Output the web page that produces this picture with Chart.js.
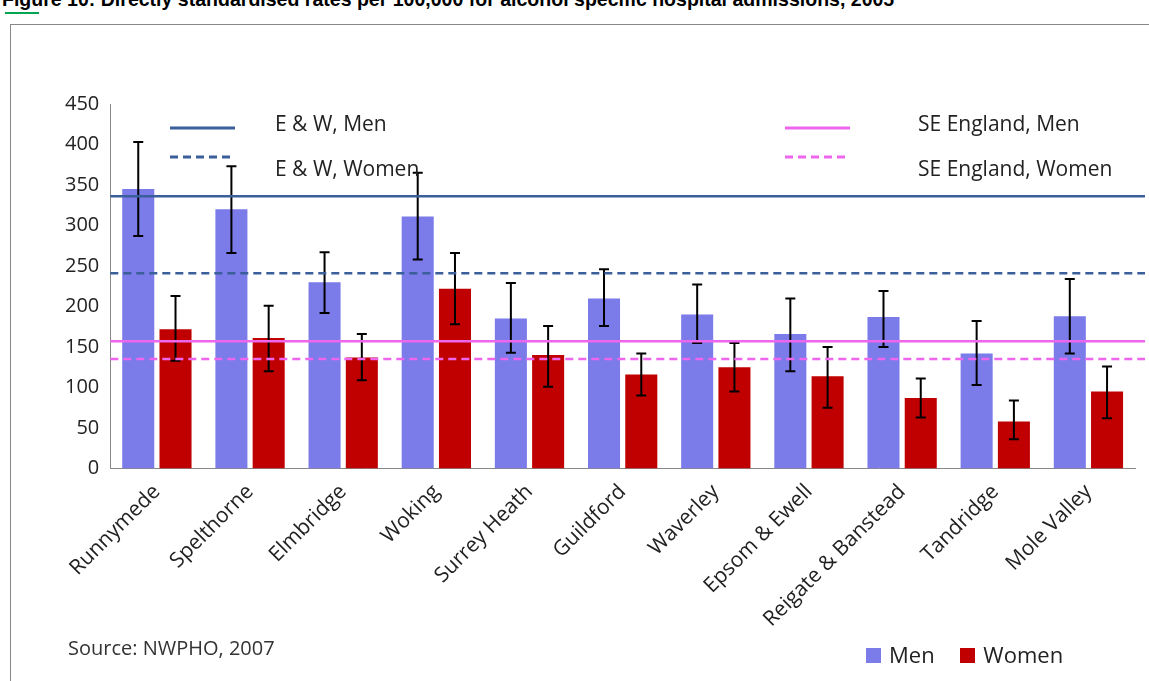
<!DOCTYPE html>
<html>
<head>
<meta charset="utf-8">
<script src="https://cdn.jsdelivr.net/npm/chart.js@4"></script>
<style>
  body { margin: 0; background: #fff; width: 1149px; height: 681px; overflow: hidden; position: relative; font-family: "Liberation Sans", Arial, sans-serif; }
  #title { position: absolute; left: 2px; top: -13px; font-weight: bold; font-size: 21px; white-space: nowrap; transform: scaleX(0.93); transform-origin: left; }
  #rule { position: absolute; left: 5px; top: 12px; width: 34px; height: 2px; background: #00a651; }
  #frame { position: absolute; left: 10px; top: 24px; width: 1160px; height: 700px; border: 1px solid #888; }
  #wrap { position: absolute; left: 0; top: 0; width: 1149px; height: 681px; }
  #source { position: absolute; left: 68px; top: 634px; font-family: "Open Sans", sans-serif; font-size: 20px; color: #333; }
  #legend { position: absolute; left: 866px; top: 639px; font-family: "Open Sans", sans-serif; font-size: 22px; color: #222; }
  #legend span.box { display: inline-block; width: 15px; height: 15px; margin-right: 8px; }
</style>
</head>
<body>
<div id="title">Figure 10: Directly standardised rates per 100,000 for alcohol specific hospital admissions, 2005</div>
<div id="rule"></div>
<div id="frame"></div>
<div id="wrap"><canvas id="chart"></canvas></div>
<div id="source">Source: NWPHO, 2007</div>
<div id="legend"><span class="box" style="background:#7b7bea"></span>Men <span class="box" style="background:#c00000;margin-left:20px"></span>Women</div>
<script>
const districts = ['Runnymede', 'Spelthorne', 'Elmbridge', 'Woking', 'Surrey Heath', 'Guildford',
  'Waverley', 'Epsom & Ewell', 'Reigate & Banstead', 'Tandridge', 'Mole Valley'];
const menRates = [345, 320, 230, 311, 185, 210, 190, 166, 187, 142, 188];
const menLow   = [287, 266, 192, 258, 143, 176, 155, 120, 150, 103, 142];
const menHigh  = [403, 373, 267, 365, 229, 246, 227, 210, 219, 182, 234];
const womenRates = [172, 161, 137, 222, 140, 116, 125, 114, 87, 58, 95];
const womenLow   = [133, 120, 109, 178, 101, 90, 95, 75, 63, 36, 62];
const womenHigh  = [213, 201, 166, 266, 176, 142, 155, 150, 111, 84, 126];
const refLabels = ['E & W, Men', 'E & W, Women', 'SE England, Men', 'SE England, Women'];
const refValues = [336, 241, 157, 135];
const yTicks = [0, 50, 100, 150, 200, 250, 300, 350, 400, 450];

const refStyles = [
  { color: '#3a5f9a', dash: [] },
  { color: '#3a5f9a', dash: [8, 5] },
  { color: '#ee66ee', dash: [] },
  { color: '#ee66ee', dash: [8, 5] }
];

// error bars and reference lines drawn against the chart's own scales
const overlays = {
  id: 'overlays',
  afterDatasetsDraw(chart) {
    const ctx = chart.ctx;
    const y = chart.scales.y;
    ctx.save();
    ctx.strokeStyle = '#000';
    ctx.lineWidth = 2;
    [[menLow, menHigh], [womenLow, womenHigh]].forEach((pair, di) => {
      chart.getDatasetMeta(di).data.forEach((bar, i) => {
        const top = y.getPixelForValue(pair[1][i]);
        const bot = y.getPixelForValue(pair[0][i]);
        ctx.beginPath();
        ctx.moveTo(bar.x, top); ctx.lineTo(bar.x, bot);
        ctx.moveTo(bar.x - 5, top); ctx.lineTo(bar.x + 5, top);
        ctx.moveTo(bar.x - 5, bot); ctx.lineTo(bar.x + 5, bot);
        ctx.stroke();
      });
    });
    const a = chart.chartArea;
    refValues.forEach((v, i) => {
      const py = y.getPixelForValue(v);
      ctx.strokeStyle = refStyles[i].color;
      ctx.setLineDash(refStyles[i].dash);
      ctx.lineWidth = 2.5;
      ctx.beginPath();
      ctx.moveTo(a.left, py); ctx.lineTo(chart.width - 4, py);
      ctx.stroke();
    });
    // line key inside plot area
    const keys = [[170, 128], [170, 157], [785, 128], [785, 157]];
    ctx.font = '21px "Open Sans", sans-serif';
    ctx.fillStyle = '#222';
    ctx.textBaseline = 'middle';
    keys.forEach((k, i) => {
      ctx.strokeStyle = refStyles[i].color;
      ctx.setLineDash(refStyles[i].dash);
      ctx.lineWidth = 3;
      ctx.beginPath();
      ctx.moveTo(k[0], k[1]); ctx.lineTo(k[0] + 65, k[1]);
      ctx.stroke();
      ctx.fillText(refLabels[i], k[0] + (i < 2 ? 105 : 133), k[1] - 3 + (i % 2) * 16);
    });
    ctx.restore();
  }
};

new Chart(document.getElementById('chart'), {
  type: 'bar',
  data: {
    labels: districts,
    datasets: [
      { label: 'Men', data: menRates, backgroundColor: '#7b7bea' },
      { label: 'Women', data: womenRates, backgroundColor: '#c00000' }
    ]
  },
  options: {
    responsive: true,
    maintainAspectRatio: false,
    animation: false,
    layout: { padding: { top: 104, left: 62, right: 14, bottom: 46 } },
    datasets: { bar: { categoryPercentage: 0.8, barPercentage: 0.86 } },
    plugins: { legend: { display: false }, tooltip: { enabled: false } },
    scales: {
      y: {
        min: 0, max: 450,
        afterBuildTicks: s => { s.ticks = yTicks.map(v => ({ value: v })); },
        grid: { display: false },
        border: { color: '#888' },
        ticks: { font: { family: 'Open Sans', size: 20 }, color: '#222' }
      },
      x: {
        grid: { display: false },
        border: { color: '#888' },
        ticks: { minRotation: 45, maxRotation: 45, font: { family: 'Open Sans', size: 21 }, color: '#222' }
      }
    }
  },
  plugins: [overlays]
});
</script>
</body>
</html>
